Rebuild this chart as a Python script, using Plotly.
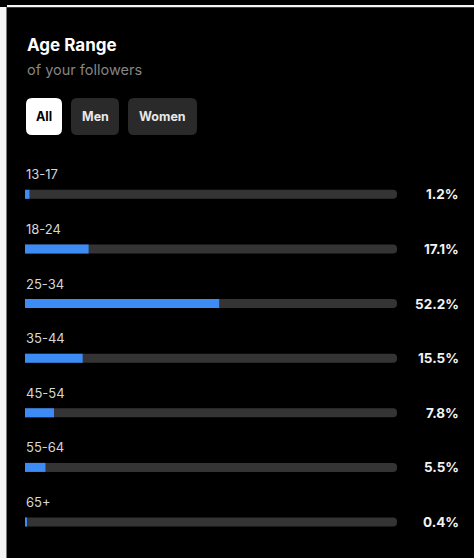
import plotly.graph_objects as go

age_groups = ["13-17", "18-24", "25-34", "35-44", "45-54", "55-64", "65+"]
shares = [1.2, 17.1, 52.2, 15.5, 7.8, 5.5, 0.4]
share_labels = ["1.2%", "17.1%", "52.2%", "15.5%", "7.8%", "5.5%", "0.4%"]
track_max = [100] * len(age_groups)
filters = ["All", "Men", "Women"]

W_TOTAL, H_TOTAL = 474, 558
L, R, T, B = 25, 77, 167, 6
PW = W_TOTAL - L - R
PH = H_TOTAL - T - B


def px(x):
    return (x - L) / PW


def py(y):
    return 1 - (y - T) / PH


def rrect(x0, y0, x1, y1, r):
    rx, ry = r / PW, r / PH
    a0, a1 = px(x0), px(x1)
    b0, b1 = py(y1), py(y0)
    return (f"M {a0+rx},{b0} L {a1-rx},{b0} Q {a1},{b0} {a1},{b0+ry} "
            f"L {a1},{b1-ry} Q {a1},{b1} {a1-rx},{b1} L {a0+rx},{b1} "
            f"Q {a0},{b1} {a0},{b1-ry} L {a0},{b0+ry} Q {a0},{b0} {a0+rx},{b0} Z")


fig = go.Figure()
fig.add_trace(go.Bar(
    y=age_groups, x=track_max, orientation="h", width=0.165,
    marker=dict(color="#343434", line=dict(width=0)), hoverinfo="skip",
))
fig.add_trace(go.Bar(
    y=age_groups, x=shares, orientation="h", width=0.165,
    marker=dict(color="#3d8bf5", line=dict(width=0)), hoverinfo="skip",
))

annotations = []
for g, lab in zip(age_groups, share_labels):
    annotations.append(dict(
        x=0, y=g, xref="x", yref="y", text=g, showarrow=False,
        xanchor="left", yanchor="middle", yshift=20, xshift=-1,
        font=dict(family="Inter", size=13, color="#d6d6d6"),
    ))
    annotations.append(dict(
        x=px(461), y=g, xref="paper", yref="y", text=lab, showarrow=False,
        xanchor="right", yanchor="middle", yshift=0,
        font=dict(family="Inter", size=13.5, color="#f2f2f2", weight="bold"),
    ))

annotations.append(dict(
    x=px(25), y=py(45), xref="paper", yref="paper", text="Age Range",
    showarrow=False, xanchor="left", yanchor="middle",
    font=dict(family="Inter", size=17, color="#ffffff", weight="bold"),
))
annotations.append(dict(
    x=px(25), y=py(69), xref="paper", yref="paper", text="of your followers",
    showarrow=False, xanchor="left", yanchor="middle",
    font=dict(family="Inter", size=14.5, color="#858585"),
))

btn_boxes = [(26, 62), (71, 119), (128, 197)]
shapes = []
for name, (x0, x1) in zip(filters, btn_boxes):
    active = name == "All"
    shapes.append(dict(
        type="path", path=rrect(x0, 98, x1, 135, 6), xref="paper", yref="paper",
        fillcolor="#ffffff" if active else "#2a2a2a", line=dict(width=0), layer="below",
    ))
    annotations.append(dict(
        x=px((x0 + x1) / 2), y=py(117), xref="paper", yref="paper", text=name,
        showarrow=False, xanchor="center", yanchor="middle",
        font=dict(family="Inter", size=12.5, color="#000000" if active else "#e8e8e8",
                  weight="bold"),
    ))

shapes.append(dict(type="rect", xref="paper", yref="paper",
                   x0=px(-2), x1=px(6.5), y0=py(560), y1=py(7),
                   fillcolor="#f4f4f4", line=dict(width=0)))
shapes.append(dict(type="rect", xref="paper", yref="paper",
                   x0=px(7), x1=px(476), y0=py(7.2), y1=py(5),
                   fillcolor="#f4f4f4", line=dict(width=0)))

fig.update_layout(
    width=W_TOTAL, height=H_TOTAL,
    margin=dict(l=L, r=R, t=T, b=B, pad=0),
    paper_bgcolor="#000000", plot_bgcolor="#000000",
    barmode="overlay", barcornerradius=5, showlegend=False,
    xaxis=dict(range=[0, 100], visible=False, fixedrange=True),
    yaxis=dict(categoryorder="array", categoryarray=age_groups, autorange="reversed",
               visible=False, fixedrange=True),
    annotations=annotations, shapes=shapes,
)

fig.write_html(
    "out.html",
    config=dict(displayModeBar=False),
    post_script="document.body.style.margin='0';document.body.style.overflow='hidden';",
)
